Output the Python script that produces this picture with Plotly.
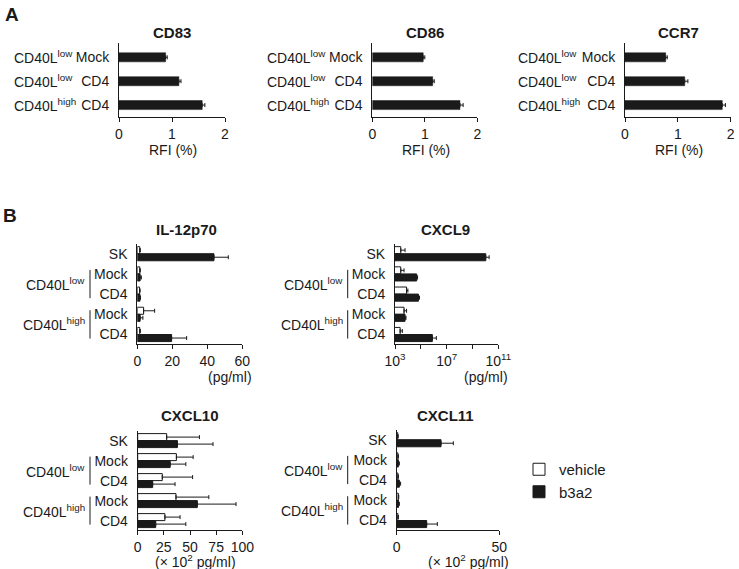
import plotly.graph_objects as go

W, H = 739, 569

# ---------------- data ----------------
a_groups = ["CD40L<sup>low</sup>", "CD40L<sup>low</sup>", "CD40L<sup>high</sup>"]
a_conditions = ["Mock", "CD4", "CD4"]
cd83_rfi = [0.88, 1.13, 1.57]
cd83_sd = [0.03, 0.04, 0.05]
cd86_rfi = [0.97, 1.15, 1.67]
cd86_sd = [0.03, 0.03, 0.06]
ccr7_rfi = [0.77, 1.13, 1.84]
ccr7_sd = [0.03, 0.06, 0.06]

b_rows = ["SK", "Mock", "CD4", "Mock", "CD4"]
b_groups = ["CD40L<sup>low</sup>", "CD40L<sup>high</sup>"]
treatments = ["vehicle", "b3a2"]

il12_vehicle = [1.4, 1.4, 1.3, 3.6, 1.4]
il12_vehicle_sd = [0.3, 0.3, 0.3, 6.3, 0.3]
il12_b3a2 = [43.8, 1.6, 1.5, 1.6, 19.6]
il12_b3a2_sd = [8.2, 0.7, 0.3, 1.6, 8.6]

cxcl9_vehicle = [2.8e3, 2.8e3, 7.9e3, 5.0e3, 2.5e3]
cxcl9_vehicle_sd = [3.2e3, 2.2e3, 2.1e3, 2.9e3, 1.2e3]
cxcl9_b3a2 = [1.07e10, 4.8e4, 6.5e4, 6.0e3, 7.8e5]
cxcl9_b3a2_sd = [8.8e9, 0.8e4, 1.4e4, 1.1e3, 8.2e5]

cxcl10_vehicle = [27.7, 37.0, 23.5, 36.6, 26.0]
cxcl10_vehicle_sd = [31.3, 16.0, 29.0, 31.4, 14.5]
cxcl10_b3a2 = [38.0, 31.0, 14.3, 57.0, 17.2]
cxcl10_b3a2_sd = [34.0, 15.0, 21.4, 37.0, 28.8]

cxcl11_vehicle = [0.5, 0.6, 0.6, 0.8, 0.6]
cxcl11_vehicle_sd = [0.2, 0.2, 0.2, 0.2, 0.2]
cxcl11_b3a2 = [21.6, 0.8, 1.3, 0.9, 14.6]
cxcl11_b3a2_sd = [6.0, 0.5, 0.6, 0.4, 5.2]

# ---------------- styling helpers ----------------
FONT = "Liberation Sans, Arial, Helvetica, sans-serif"
INK = "#1a1a1a"
FS = 14


def fx(px):
    return px / W


def fy(py):
    return 1 - py / H


fig = go.Figure()
layout = {}
annotations = []
shapes = []


def axnames(i):
    s = "" if i == 1 else str(i)
    return "xaxis" + s, "yaxis" + s, "x" + s, "y" + s


def add_axes(i, x0, x1, y0, y1, xcfg, yrange, ytext):
    xa, ya, xr, yr = axnames(i)
    base = dict(showline=True, linecolor=INK, linewidth=1, showgrid=False,
                zeroline=False, automargin=False, fixedrange=True,
                tickfont=dict(size=FS, color=INK, family=FONT))
    layout[xa] = dict(domain=[fx(x0), fx(x1)], anchor=yr, ticks="outside",
                      ticklen=4, tickwidth=1, tickcolor=INK, **base, **xcfg)
    layout[ya] = dict(domain=[fy(y1), fy(y0)], anchor=xr, ticks="",
                      range=yrange, tickmode="array",
                      tickvals=list(range(len(ytext))), ticktext=ytext,
                      ticklabelstandoff=6, **base)
    return xr, yr


def err(sd):
    return dict(type="data", array=sd, arrayminus=[0] * len(sd),
                symmetric=False, color=INK, thickness=1, width=2)


def text(x, y, s, size=FS, bold=False, xanchor="center", xref="paper", yref="paper"):
    annotations.append(dict(
        x=x, y=y, xref=xref, yref=yref, text=f"<b>{s}</b>" if bold else s,
        showarrow=False, xanchor=xanchor, yanchor="middle",
        font=dict(size=size, color=INK, family=FONT)))


# ---------------- panel A ----------------
panelA = [
    ("CD83", cd83_rfi, cd83_sd, 119, 225, 12, 172),
    ("CD86", cd86_rfi, cd86_sd, 372.3, 477.3, 265, 425),
    ("CCR7", ccr7_rfi, ccr7_sd, 625, 730.7, 516, 678),
]
for k, (name, vals, sd, x0, x1, lab_x, cx) in enumerate(panelA):
    i = k + 1
    xr, yr = add_axes(i, x0, x1, 43, 117,
                      dict(range=[0, 2], tickvals=[0, 1, 2]),
                      [2.5, -0.6], a_conditions)
    fig.add_trace(go.Bar(
        x=vals, y=list(range(len(vals))), orientation="h", width=0.38,
        marker=dict(color=INK, line=dict(color=INK, width=0.5)),
        error_x=err(sd), xaxis=xr, yaxis=yr, showlegend=False))
    for r, g in enumerate(a_groups):
        text(fx(lab_x), r, g, xanchor="left", yref=yr)
    text(fx(cx), fy(32), name, size=15, bold=True)
    text(fx(cx + 1), fy(150), "RFI (%)")

text(fx(3), fy(14), "A", size=19, bold=True, xanchor="left")
text(fx(1), fy(215), "B", size=19, bold=True, xanchor="left")

# ---------------- panel B ----------------
panelB = [
    ("IL-12p70", il12_vehicle, il12_vehicle_sd, il12_b3a2, il12_b3a2_sd,
     137.3, 242.3, 244, 344,
     dict(range=[0, 60], tickvals=[0, 20, 40, 60]),
     186.7, 230, "(pg/ml)", 230, 377, 90),
    ("CXCL9", cxcl9_vehicle, cxcl9_vehicle_sd, cxcl9_b3a2, cxcl9_b3a2_sd,
     395, 498.3, 244, 344,
     dict(type="log", range=[3, 11], tickvals=[1e3, 1e5, 1e7, 1e9, 1e11],
          ticktext=["10<sup>3</sup>", "", "10<sup>7</sup>", "", "10<sup>11</sup>"]),
     445.7, 230, "(pg/ml)", 486, 377, 347.7),
    ("CXCL10", cxcl10_vehicle, cxcl10_vehicle_sd, cxcl10_b3a2, cxcl10_b3a2_sd,
     137.7, 242.3, 431, 530,
     dict(range=[0, 100], tickvals=[0, 25, 50, 75, 100]),
     189.7, 415, "(× 10<sup>2</sup> pg/ml)", 195, 561, 90),
    ("CXCL11", cxcl11_vehicle, cxcl11_vehicle_sd, cxcl11_b3a2, cxcl11_b3a2_sd,
     396.7, 499.3, 430, 530,
     dict(range=[0, 50], tickvals=[0, 50]),
     445.7, 415, "(× 10<sup>2</sup> pg/ml)", 468.3, 561, 347.7),
]
for k, (name, veh, veh_sd, b3, b3_sd, x0, x1, y0, y1, xcfg,
        tx, ty, unit, ux, uy, brx) in enumerate(panelB):
    i = k + 4
    xr, yr = add_axes(i, x0, x1, y0, y1, xcfg, [4.47, -0.48], b_rows)
    pos = list(range(len(b_rows)))
    last = (k == len(panelB) - 1)
    fig.add_trace(go.Bar(
        x=veh, y=pos, orientation="h", name=treatments[0],
        marker=dict(color="white", line=dict(color=INK, width=1)),
        error_x=err(veh_sd), xaxis=xr, yaxis=yr, showlegend=last,
        offsetgroup="v"))
    fig.add_trace(go.Bar(
        x=b3, y=pos, orientation="h", name=treatments[1],
        marker=dict(color=INK, line=dict(color=INK, width=1)),
        error_x=err(b3_sd), xaxis=xr, yaxis=yr, showlegend=last,
        offsetgroup="b"))
    # group labels with brackets
    for g, (lo, hi) in zip(b_groups, [(1, 2), (3, 4)]):
        shapes.append(dict(type="line", xref="paper", yref=yr,
                           x0=fx(brx), x1=fx(brx), y0=lo - 0.2, y1=hi + 0.2,
                           line=dict(color=INK, width=1)))
        text(fx(brx - 3), (lo + hi) / 2, g, xanchor="right", yref=yr)
    text(fx(tx), fy(ty), name, size=15, bold=True)
    text(fx(ux), fy(uy), unit)

layout.update(dict(
    template="none",
    width=W, height=H, margin=dict(l=0, r=0, t=0, b=0, autoexpand=False),
    paper_bgcolor="white", plot_bgcolor="white",
    barmode="group", bargap=0.3, bargroupgap=0,
    font=dict(family=FONT, size=FS, color=INK),
    annotations=annotations, shapes=shapes,
    legend=dict(x=fx(519), y=fy(453), xanchor="left", yanchor="top",
                bgcolor="rgba(0,0,0,0)", font=dict(size=15, color=INK),
                traceorder="normal", itemclick=False),
))
fig.update_layout(**layout)
fig.write_html("out.html", config={"displayModeBar": False},
               post_script="document.body.style.margin='0';document.body.style.overflow='hidden';")
